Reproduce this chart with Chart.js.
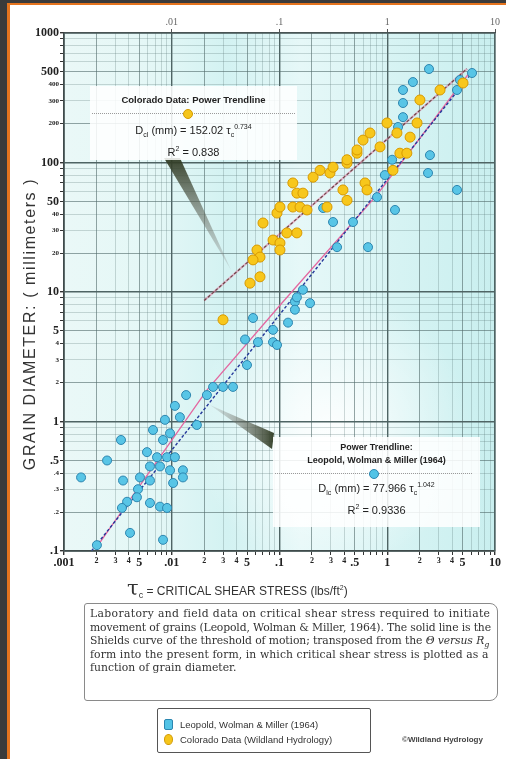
<!DOCTYPE html>
<html>
<head>
<meta charset="utf-8">
<script src="https://cdn.jsdelivr.net/npm/chart.js@4.4.1/dist/chart.umd.min.js"></script>
<style>
  html, body { margin: 0; padding: 0; }
  body { width: 506px; height: 759px; background: #3b3b3b; position: relative; overflow: hidden;
         font-family: 'Liberation Sans', Arial, sans-serif; color: #222; }
  #panel { position: absolute; left: 7px; top: 3px; right: 0; bottom: 0; background: #fff;
           border-left: 3px solid #e5741e; border-top: 2px solid #e5741e; }
  #c { position: absolute; left: 0; top: 0; }
  svg { position: absolute; left: 0; top: 0; }
  .box { position: absolute; background: rgba(255,255,255,0.86); }
  .t { position: absolute; left: 0; right: 0; text-align: center; white-space: nowrap; line-height: 1; }
  .dots { position: absolute; height: 0; border-top: 1px dotted #9a9a9a; }
  .mk { position: absolute; width: 8px; height: 8px; border-radius: 50%; }
  #ytitle { position: absolute; left: 30px; top: 324px; transform: translate(-50%, -50%) rotate(-90deg);
            white-space: nowrap; font-size: 16px; letter-spacing: 1.6px; color: #333; }
  #xtitle { position: absolute; left: 127px; top: 576px; white-space: nowrap; font-size: 12px; color: #333; }
  #xtitle .tau { font-family: 'DejaVu Serif', serif; font-size: 21px; }
  #caption { position: absolute; left: 84px; top: 603px; width: 404px; height: 91px; padding: 3px 3px 2px 5px;
             border: 1px solid #8a8a8a; border-radius: 3px 8px 8px 3px; font-family: 'DejaVu Serif', serif;
             font-size: 10.8px; line-height: 13.6px; color: #333; }
  #caption .ln { height: 13.6px; white-space: nowrap; }
  #caption sub { font-size: 8px; line-height: 0; }
  #legend { position: absolute; left: 157px; top: 708px; width: 212px; height: 43px; border: 1px solid #555;
            border-radius: 2px; font-size: 9.5px; color: #333; }
  #legend div { position: absolute; left: 22px; white-space: nowrap; }
  #copy { position: absolute; left: 402px; top: 735px; font-size: 8px; font-weight: bold; color: #444; white-space: nowrap; }
</style>
</head>
<body>
<div id="panel"></div>
<canvas id="c" width="506" height="600"></canvas>

<svg width="506" height="759">
  <defs>
    <linearGradient id="w1" x1="0" y1="0" x2="0" y2="1">
      <stop offset="0" stop-color="#2f3a22" stop-opacity="0.95"/>
      <stop offset="1" stop-color="#9a9a9a" stop-opacity="0.25"/>
    </linearGradient>
    <linearGradient id="w2" x1="1" y1="0" x2="0" y2="0">
      <stop offset="0" stop-color="#2f3a22" stop-opacity="0.95"/>
      <stop offset="1" stop-color="#9a9a9a" stop-opacity="0.2"/>
    </linearGradient>
  </defs>
  <polygon points="164,158 180,158 231,270" fill="url(#w1)"/>
  <polygon points="210,405 274,433 272,449" fill="url(#w2)"/>
</svg>

<div class="box" style="left:90px;top:86px;width:207px;height:74px;">
  <div class="t" style="top:9px;font-size:9.5px;font-weight:bold;">Colorado Data: Power Trendline</div>
  <div class="dots" style="left:2px;right:2px;top:27px;"></div>
  <div class="mk" style="left:93px;top:23px;background:#f5c51b;border:1px solid #d39a00;"></div>
  <div class="t" style="top:37px;font-size:11px;">D<sub style="font-size:7px">cl</sub> (mm) = 152.02 τ<sub style="font-size:7px">c</sub><sup style="font-size:7px">0.734</sup></div>
  <div class="t" style="top:59px;font-size:11px;">R<sup style="font-size:7px">2</sup> = 0.838</div>
</div>

<div class="box" style="left:273px;top:437px;width:207px;height:90px;">
  <div class="t" style="top:6px;font-size:9px;font-weight:bold;">Power Trendline:</div>
  <div class="t" style="top:19px;font-size:9px;font-weight:bold;">Leopold, Wolman &amp; Miller (1964)</div>
  <div class="dots" style="left:2px;right:8px;top:36px;"></div>
  <div class="mk" style="left:96px;top:32px;background:#52c3e6;border:1px solid #2b86b0;"></div>
  <div class="t" style="top:44px;font-size:11px;">D<sub style="font-size:7px">lc</sub> (mm) = 77.966 τ<sub style="font-size:7px">c</sub><sup style="font-size:7px">1.042</sup></div>
  <div class="t" style="top:66px;font-size:11px;">R<sup style="font-size:7px">2</sup> = 0.9336</div>
</div>

<div id="ytitle">GRAIN DIAMETER: ( millimeters )</div>
<div id="xtitle"><span class="tau">τ</span><sub style="font-size:9px">c</sub> = CRITICAL SHEAR STRESS (lbs/ft<sup style="font-size:7px">2</sup>)</div>

<div id="caption">
  <div class="ln" style="letter-spacing:0.35px">Laboratory and field data on critical shear stress required to initiate</div>
  <div class="ln" style="letter-spacing:-0.15px">movement of grains (Leopold, Wolman &amp; Miller, 1964). The solid line is the</div>
  <div class="ln" style="letter-spacing:-0.1px">Shields curve of the threshold of motion; transposed from the <i>Θ versus R<sub>g</sub></i></div>
  <div class="ln" style="letter-spacing:0.1px">form into the present form, in which critical shear stress is plotted as a</div>
  <div class="ln">function of grain diameter.</div>
</div>

<div id="legend">
  <span class="mk" style="left:6px;top:10px;width:7px;height:9px;border-radius:2px;background:#52c3e6;border:1px solid #2b86b0;"></span>
  <div style="top:10px;">Leopold, Wolman &amp; Miller (1964)</div>
  <span class="mk" style="left:6px;top:25px;width:7px;height:9px;background:#f5c51b;border:1px solid #d39a00;"></span>
  <div style="top:25px;">Colorado Data (Wildland Hydrology)</div>
</div>
<div id="copy">©Wildland Hydrology</div>

<script>
// Leopold, Wolman & Miller (1964) data: critical shear stress (lbs/ft²) and grain diameter (mm)
const blueTau = [0.0136, 0.0107, 0.0212, 0.0242, 0.0299, 0.037, 0.0171, 0.0067, 0.00865, 0.0119,
  0.00338, 0.0083, 0.00964, 0.00589, 0.0073, 0.00904, 0.0107, 0.00251, 0.00628, 0.00778,
  0.00964, 0.0127, 0.00144, 0.00353, 0.00507, 0.00628, 0.0103, 0.0127, 0.00486, 0.00475,
  0.00385, 0.00345, 0.00628, 0.00778, 0.00904, 0.0041, 0.0083, 0.00202, 0.0568, 0.0479,
  0.0631, 0.0871, 0.0871, 0.0948, 0.120, 0.139, 0.139, 0.165, 0.192, 0.0499,
  0.145, 0.254, 0.314, 0.481, 0.663, 0.804, 0.342, 2.44, 1.73, 1.40,
  1.40, 1.40, 1.26, 2.49, 2.39, 4.44, 1.18, 4.73, 6.12, 4.44, 0.95, 1.11];
const blueD = [1.60, 1.32, 1.60, 1.85, 1.85, 1.85, 0.94, 0.86, 1.03, 1.08,
  0.72, 0.72, 0.81, 0.58, 0.53, 0.53, 0.53, 0.50, 0.45, 0.45,
  0.42, 0.42, 0.37, 0.35, 0.37, 0.35, 0.335, 0.37, 0.30, 0.26,
  0.24, 0.215, 0.235, 0.22, 0.215, 0.138, 0.122, 0.111, 6.3, 4.3,
  4.1, 5.1, 4.1, 3.9, 5.8, 8.4, 7.3, 10.4, 8.2, 2.73,
  9.1, 44.5, 34.7, 34.7, 22.2, 54, 22.2, 527, 418, 363,
  288, 224, 188, 114, 83, 61.4, 43, 434, 491, 363, 80, 105];

// Colorado data (Wildland Hydrology)
const yellowTau = [0.0299, 0.0532, 0.0659, 0.0618, 0.0659, 0.0703, 0.0871, 0.101, 0.101, 0.0948,
  0.101, 0.117, 0.145, 0.133, 0.155, 0.180, 0.133, 0.145, 0.165, 0.205,
  0.238, 0.294, 0.388, 0.423, 0.276, 0.423, 0.524, 0.622, 0.649, 0.995,
  1.23, 1.63, 1.89, 2.01, 3.09, 5.05, 1.13, 1.31, 1.52, 0.857,
  0.524, 0.596, 0.692, 0.423, 0.314, 0.0568];
const yellowD = [6.1, 11.7, 13.1, 21.1, 18.6, 34.1, 25.2, 23.9, 21.1, 40.7,
  45.3, 28.6, 28.6, 45.3, 45.3, 43, 69.5, 58, 58, 77,
  87, 83, 61.4, 51, 45.3, 99, 118, 69.5, 61.4, 202,
  169, 157, 202, 304, 363, 411, 87, 118, 118, 132,
  125, 149, 169, 105, 92, 17.7];

// Shields curve and the two power trendlines
const shieldsTau = [0.00207, 0.0212, 0.101, 0.80, 5.86];
const shieldsD = [0.111, 1.75, 7.9, 56, 500];
const leopoldFitTau = [0.0018, 6.2];
const leopoldFitD = [0.1, 500];
const coloradoFitTau = [0.02, 5.5];
const coloradoFitD = [8.6, 530];

// tick labels
const yTickVals = [0.1, 0.2, 0.3, 0.4, 0.5, 1, 2, 3, 4, 5, 10, 20, 30, 40, 50, 100, 200, 300, 400, 500, 1000];
const yTickText = ['.1', '.2', '.3', '.4', '.5', '1', '2', '3', '4', '5', '10', '20', '30', '40', '50', '100', '200', '300', '400', '500', '1000'];
const xTickVals = [0.001, 0.002, 0.003, 0.004, 0.005, 0.01, 0.02, 0.03, 0.04, 0.05, 0.1, 0.2, 0.3, 0.4, 0.5, 1, 2, 3, 4, 5, 10];
const xTickText = ['.001', '2', '3', '4', '5', '.01', '2', '3', '4', '5', '.1', '2', '3', '4', '.5', '1', '2', '3', '4', '5', '10'];
const topTickVals = [0.01, 0.1, 1, 10];
const topTickText = ['.01', '.1', '1', '10'];

function pts(xs, ys) { return xs.map((x, i) => ({ x: x, y: ys[i] })); }

function gridValues(lo, hi) {
  const out = [];
  for (let e = Math.log10(lo); e < Math.log10(hi); e++) {
    for (let m = 1; m < 10; m++) out.push(+(m * Math.pow(10, e)).toPrecision(3));
  }
  out.push(hi);
  return out;
}
function lead(v) { return Math.round(v / Math.pow(10, Math.floor(Math.log10(v) + 1e-9))); }
function labelFor(vals, texts, v) {
  const i = vals.findIndex(t => Math.abs(t - v) / t < 1e-6);
  return i >= 0 ? texts[i] : '';
}
function gridColor(ctx) {
  const d = lead(ctx.tick.value);
  if (d === 1 || d === 10) return '#4f6464';
  if (d === 5 || d === 2) return 'rgba(80,105,105,0.6)';
  return 'rgba(90,120,120,0.28)';
}
function gridWidth(ctx) {
  const d = lead(ctx.tick.value);
  return (d === 1 || d === 10) ? 1.4 : 1;
}
function bigFont(ctx, big, small) {
  const d = lead(ctx.tick.value);
  return { family: 'Liberation Serif', weight: 'bold', size: (d === 1 || d === 10 || d === 5) ? big : small };
}

const plotBg = {
  id: 'plotBg',
  beforeDraw(chart) {
    const { ctx, chartArea: a } = chart;
    ctx.save();
    const g = ctx.createLinearGradient(a.left, 0, a.right, 0);
    g.addColorStop(0, '#eaf8f7');
    g.addColorStop(0.22, '#e3f7f6');
    g.addColorStop(0.38, '#d3f2f2');
    g.addColorStop(0.55, '#e6f8f8');
    g.addColorStop(0.78, '#d6f3f3');
    g.addColorStop(1, '#c9efef');
    ctx.fillStyle = g;
    ctx.fillRect(a.left, a.top, a.width, a.height);
    const r = ctx.createRadialGradient(330, 430, 10, 330, 430, 140);
    r.addColorStop(0, 'rgba(255,255,255,0.85)');
    r.addColorStop(1, 'rgba(255,255,255,0)');
    ctx.fillStyle = r;
    ctx.fillRect(a.left, a.top, a.width, a.height);
    ctx.restore();
  },
  afterDraw(chart) {
    const { ctx, chartArea: a } = chart;
    ctx.save();
    ctx.strokeStyle = '#4f6464';
    ctx.lineWidth = 1;
    ctx.strokeRect(a.left, a.top, a.width, a.height);
    ctx.restore();
  }
};

new Chart(document.getElementById('c'), {
  type: 'scatter',
  data: {
    datasets: [
      {
        label: 'Leopold, Wolman & Miller (1964)',
        data: pts(blueTau, blueD),
        pointRadius: 4.5,
        pointBackgroundColor: '#58c5e6',
        pointBorderColor: '#2d86b0',
        pointBorderWidth: 1,
        order: 2
      },
      {
        label: 'Colorado Data (Wildland Hydrology)',
        data: pts(yellowTau, yellowD),
        pointRadius: 5,
        pointBackgroundColor: '#f7c71c',
        pointBorderColor: '#d99a00',
        pointBorderWidth: 1,
        order: 1
      },
      {
        label: 'Shields curve',
        data: pts(shieldsTau, shieldsD),
        showLine: true,
        pointRadius: 0,
        borderColor: '#e466a0',
        borderWidth: 1.3,
        order: 5
      },
      {
        label: 'Leopold trend',
        data: pts(leopoldFitTau, leopoldFitD),
        showLine: true,
        pointRadius: 0,
        borderColor: '#24389a',
        borderWidth: 1.4,
        borderDash: [3, 2],
        order: 4
      },
      {
        label: 'Colorado trend shadow',
        data: pts(coloradoFitTau, coloradoFitD),
        showLine: true,
        pointRadius: 0,
        borderColor: 'rgba(230,120,160,0.55)',
        borderWidth: 2.2,
        order: 4
      },
      {
        label: 'Colorado trend',
        data: pts(coloradoFitTau, coloradoFitD),
        showLine: true,
        pointRadius: 0,
        borderColor: '#6a4848',
        borderWidth: 1.2,
        borderDash: [3, 2],
        order: 3
      }
    ]
  },
  options: {
    responsive: false,
    animation: false,
    layout: { padding: { left: 10, right: 11, top: 13, bottom: 19 } },
    plugins: { legend: { display: false }, tooltip: { enabled: false }, title: { display: false } },
    scales: {
      x: {
        type: 'logarithmic',
        position: 'bottom',
        min: 0.001,
        max: 10,
        afterBuildTicks: s => { s.ticks = gridValues(0.001, 10).map(v => ({ value: v })); },
        afterFit: s => { s.height = 30; },
        grid: { color: gridColor, lineWidth: gridWidth, tickLength: 4, tickColor: '#333' },
        border: { color: '#333', width: 1.5 },
        ticks: {
          autoSkip: false, maxRotation: 0, minRotation: 0, padding: 1, color: '#222',
          font: ctx => bigFont(ctx, 12, 8),
          callback: v => labelFor(xTickVals, xTickText, v)
        }
      },
      xTop: {
        type: 'logarithmic',
        position: 'top',
        display: true,
        min: 0.001,
        max: 10,
        afterBuildTicks: s => { s.ticks = topTickVals.map(v => ({ value: v })); },
        afterFit: s => { s.height = 20; },
        grid: { drawOnChartArea: false, tickLength: 4, tickColor: '#555' },
        border: { color: '#444', width: 1.3 },
        ticks: {
          autoSkip: false, maxRotation: 0, padding: 1, color: '#666',
          font: { family: 'Liberation Serif', size: 10 },
          callback: v => labelFor(topTickVals, topTickText, v)
        }
      },
      y: {
        type: 'logarithmic',
        position: 'left',
        min: 0.1,
        max: 1000,
        afterBuildTicks: s => { s.ticks = gridValues(0.1, 1000).map(v => ({ value: v })); },
        afterFit: s => { s.width = 54; },
        grid: { color: gridColor, lineWidth: gridWidth, tickLength: 4, tickColor: '#333' },
        border: { color: '#333', width: 1.5 },
        ticks: {
          autoSkip: false, padding: 1, color: '#222',
          font: ctx => bigFont(ctx, 12, 7),
          callback: v => labelFor(yTickVals, yTickText, v)
        }
      }
    }
  },
  plugins: [plotBg]
});
</script>
</body>
</html>
